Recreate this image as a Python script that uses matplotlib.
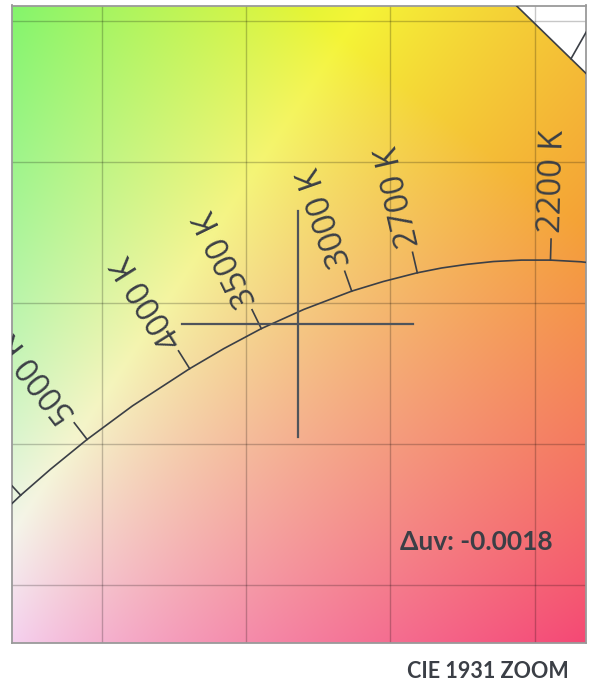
import numpy as np
import matplotlib.pyplot as plt
from matplotlib.patches import Polygon

# Planckian locus, CIE 1931 chromaticity (x, y)
cct_k = [1900, 2000, 2100, 2200, 2300, 2400, 2500, 2600, 2700, 2850, 3000,
         3250, 3500, 3750, 4000, 4500, 5000, 5500, 6000, 7000]
locus_x = [0.5381, 0.5269, 0.5160, 0.5054, 0.4953, 0.4857, 0.4765, 0.4677,
           0.4593, 0.4475, 0.4366, 0.4200, 0.4053, 0.3923, 0.3805, 0.3607,
           0.3450, 0.3323, 0.3220, 0.3064]
locus_y = [0.4111, 0.4133, 0.4146, 0.4152, 0.4152, 0.4147, 0.4137, 0.4124,
           0.4107, 0.4076, 0.4042, 0.3977, 0.3909, 0.3838, 0.3767, 0.3635,
           0.3516, 0.3410, 0.3318, 0.3166]

# labelled isotherm ticks
tick_cct = [2200, 2700, 3000, 3500, 4000, 5000, 6000]
tick_labels = ["2200 K", "2700 K", "3000 K", "3500 K", "4000 K", "5000 K", "6000 K"]

# spectral locus (nm, x, y)
spec_nm = [380, 460, 470, 480, 490, 500, 510, 520, 530, 540, 550, 560, 570,
           575, 580, 585, 590, 600, 620, 700]
spec_x = [0.1741, 0.1440, 0.1241, 0.0913, 0.0454, 0.0082, 0.0139, 0.0743,
          0.1547, 0.2296, 0.3016, 0.3731, 0.4441, 0.4788, 0.5125, 0.5448,
          0.5752, 0.6270, 0.6915, 0.7347]
spec_y = [0.0050, 0.0297, 0.0578, 0.1327, 0.2950, 0.5384, 0.7502, 0.8338,
          0.8059, 0.7543, 0.6923, 0.6245, 0.5547, 0.5202, 0.4866, 0.4544,
          0.4242, 0.3725, 0.3083, 0.2653]
wl_tick_nm = 580

# measured point
point_x = 0.4179
point_y = 0.3925
delta_uv = -0.0018

grid_x = [0.35, 0.40, 0.45, 0.50]
grid_y = [0.30, 0.35, 0.40, 0.45, 0.50]
xlim = (0.3190, 0.5177)
ylim = (0.2794, 0.5055)

text_color = "#3b3f46"


def xy_to_linear_rgb(x, y):
    X = x / y
    Z = (1 - x - y) / y
    r = 3.2406 * X - 1.5372 - 0.4986 * Z
    g = -0.9689 * X + 1.8758 + 0.0415 * Z
    b = 0.0557 * X - 0.2040 + 1.0570 * Z
    return np.stack([r, g, b], axis=-1)


def chromaticity_image(xlim, ylim, n=400):
    xs = np.linspace(xlim[0], xlim[1], n)
    ys = np.linspace(ylim[0], ylim[1], n)
    xx, yy = np.meshgrid(xs, ys)
    rgb = xy_to_linear_rgb(xx, yy)
    # white balance on a slightly bluish white, as the reference rendering looks
    rgb = rgb / xy_to_linear_rgb(np.array(0.3127), np.array(0.309))
    rgb = np.clip(rgb, 0, None)
    rgb = rgb / rgb.max(axis=2, keepdims=True)
    rgb = 0.96 * rgb + 0.04
    rgb = 1.055 * rgb ** (1 / 2.4) - 0.055
    return np.clip(rgb * 0.96, 0, 1)


fig = plt.figure(figsize=(5.92, 6.86), dpi=100)
ax = fig.add_axes([12 / 592, 43 / 686, 574 / 592, 637.5 / 686])
ax.set_xlim(*xlim)
ax.set_ylim(*ylim)
ax.set_xticks([])
ax.set_yticks([])
for s in ax.spines.values():
    s.set_color("#9a9a9a")
    s.set_linewidth(1.3)

# coloured background clipped to the spectral locus
horseshoe = Polygon(list(zip(spec_x, spec_y)), closed=True,
                    transform=ax.transData, facecolor="none", edgecolor="none")
ax.add_patch(horseshoe)
img = ax.imshow(chromaticity_image(xlim, ylim), origin="lower",
                extent=(*xlim, *ylim), aspect="auto", zorder=0,
                interpolation="bilinear")
img.set_clip_path(horseshoe)
ax.plot(spec_x, spec_y, color=text_color, lw=1.2, zorder=3)

# 580 nm tick on the spectral locus
i = spec_nm.index(wl_tick_nm)
ax.plot([spec_x[i], spec_x[i] + 0.0075], [spec_y[i], spec_y[i] + 0.0135],
        color=text_color, lw=1.2, zorder=3)

# grid
for gx in grid_x:
    ax.axvline(gx, color="black", alpha=0.22, lw=1, zorder=2)
for gy in grid_y:
    ax.axhline(gy, color="black", alpha=0.22, lw=1, zorder=2)

# Planckian locus
ax.plot(locus_x, locus_y, color=text_color, lw=1.2, zorder=3)

trans = ax.transData
inv = trans.inverted()
tick_px = 21
gap_px = 6
for t, lab in zip(tick_cct, tick_labels):
    k = cct_k.index(t)
    p = trans.transform((locus_x[k], locus_y[k]))
    a = trans.transform((locus_x[k - 1], locus_y[k - 1]))
    b = trans.transform((locus_x[k + 1], locus_y[k + 1]))
    tan = a - b
    tan = tan / np.hypot(*tan)
    nrm = np.array([-tan[1], tan[0]])
    end = inv.transform(p + nrm * tick_px)
    ax.plot([locus_x[k], end[0]], [locus_y[k], end[1]], color=text_color,
            lw=1.2, zorder=3)
    tx, ty = inv.transform(p + nrm * (tick_px + gap_px))
    ang = np.degrees(np.arctan2(nrm[1], nrm[0]))
    ax.text(tx, ty, lab, rotation=ang, rotation_mode="anchor", ha="left",
            va="center", fontsize=23.5, family="Open Sans", color=text_color,
            clip_on=True, zorder=5)

# crosshair at the measured point
arm = 0.04
ax.plot([point_x - arm, point_x + arm], [point_y, point_y], color="#4f545b",
        lw=1.6, zorder=4)
ax.plot([point_x, point_x], [point_y - arm, point_y + arm], color="#4f545b",
        lw=1.6, zorder=4)

ax.text(0.676, 0.158, f"\u0394uv: {delta_uv:.4f}", transform=ax.transAxes,
        ha="left", va="center", fontsize=19, fontweight="bold", family="Lato",
        color=text_color, zorder=5)

fig.text(488 / 592, 1 - 672 / 686, "CIE 1931 ZOOM", ha="center", va="center",
         fontsize=15.5, fontweight="bold", family="Lato", color=text_color)

fig.savefig("out.png", dpi=100)
